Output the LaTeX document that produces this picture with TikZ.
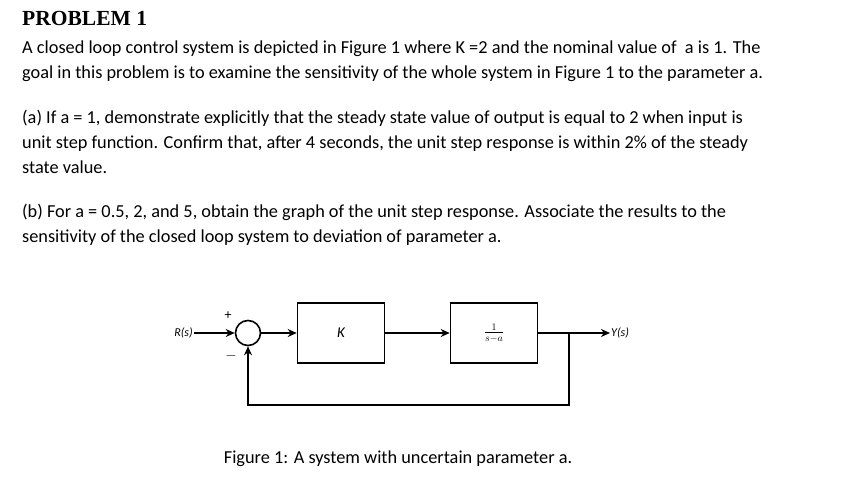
\documentclass[tikz,border=0pt]{standalone}
\usepackage{fontspec}
\setmainfont{Carlito}
\newfontfamily\titlefont{Liberation Serif}
\usetikzlibrary{arrows.meta}
\begin{document}
\begin{tikzpicture}[x=1pt,y=-1pt,
 body/.style={anchor=base west,inner sep=0pt,font=\fontsize{18.3}{20}\selectfont},
 blk/.style={draw,line width=1.6pt,minimum width=87pt,minimum height=60pt,inner sep=0pt},
 sig/.style={line width=1.6pt,-{Stealth[length=9pt,width=8pt]}},
 lbl/.style={font=\fontsize{12}{13}\selectfont\itshape,inner sep=1pt}]
\useasboundingbox (0,0) rectangle (847,496);
\node[anchor=base west,inner sep=0pt,font=\titlefont\bfseries\fontsize{21.5}{23}\selectfont] (t) at (22,25) {PROBLEM 1};
\node[body] (l1) at (22,53) {A closed loop control system is depicted in Figure 1 where K =2 and the nominal value of\ \ a\ is 1. The};
\node[body] (l2) at (22,78) {goal in this problem is to examine the sensitivity of the whole system in Figure 1 to the parameter a.};
\node[body] (l3) at (22,123) {(a) If a = 1, demonstrate explicitly that the steady state value of output is equal to 2 when input is};
\node[body] (l4) at (22,148) {unit step function. Confirm that, after 4 seconds, the unit step response is within 2\% of the steady};
\node[body] (l5) at (22,173) {state value.};
\node[body] (l6) at (22,217) {(b) For a = 0.5, 2, and 5, obtain the graph of the unit step response. Associate the results to the};
\node[body] (l7) at (22,242) {sensitivity of the closed loop system to deviation of parameter a.};
\node[body,anchor=base] (cap) at (398,463) {Figure 1: A system with uncertain parameter a.};
% diagram
\node[lbl,anchor=east] (R) at (194,333) {R(s)};
\node[draw,circle,line width=1.6pt,minimum size=25pt,inner sep=0pt] (S) at (248,333) {};
\node[blk] (K) at (341,333) {\fontsize{15}{16}\selectfont\itshape K};
\node[blk] (G) at (494,333) {\fontsize{14}{15}\selectfont$\frac{1}{s-a}$};
\coordinate (B) at (569,333);
\coordinate (F) at (569,405);
\coordinate (F2) at (248,405);
\node[lbl,anchor=west] (Y) at (610,333) {Y(s)};
\node[font=\fontsize{14}{15}\selectfont,inner sep=0pt] (p) at (228,316) {+};
\node[font=\fontsize{14}{15}\selectfont,inner sep=0pt] (m) at (231,356) {$-$};
\draw[sig] (R) -- (S);
\draw[sig] (S) -- (K);
\draw[sig] (K) -- (G);
\draw[line width=1.6pt] (G) -- (B);
\draw[sig] (B) -- (Y);
\draw[sig] (B) -- (F) -- (F2) -- (S);
\end{tikzpicture}
\end{document}
